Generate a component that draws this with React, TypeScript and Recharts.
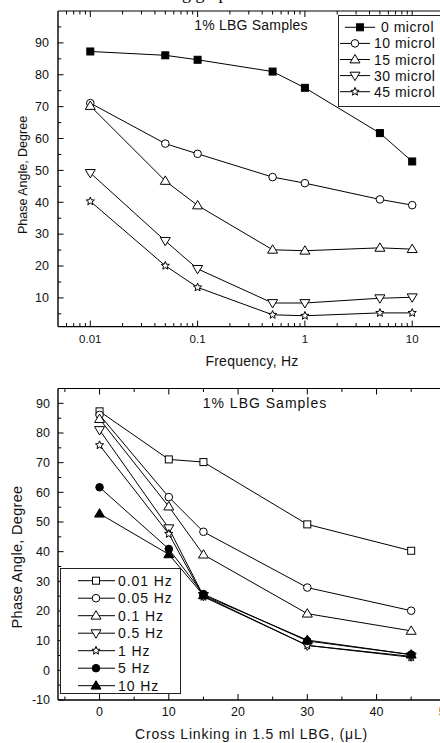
import React from 'react';
import { LineChart, Line, XAxis, YAxis, Legend } from 'recharts';

const FONT = '"Liberation Sans", Arial, Helvetica, sans-serif';

// ---------------- data ----------------
const frequencies = [0.01, 0.05, 0.1, 0.5, 1, 5, 10];
const crossLinkVolumes = [0, 10, 15, 30, 45];

const phase0ul = [87.3, 86.1, 84.7, 81.0, 75.9, 61.7, 52.8];
const phase10ul = [71.1, 58.4, 55.2, 47.9, 46.0, 40.9, 39.1];
const phase15ul = [70.2, 46.7, 39.0, 25.1, 24.8, 25.7, 25.3];
const phase30ul = [49.2, 27.9, 19.1, 8.4, 8.4, 9.9, 10.2];
const phase45ul = [40.3, 20.1, 13.3, 4.7, 4.4, 5.3, 5.3];

const volumeSeriesNames = ['0 microl', '10 microl', '15 microl', '30 microl', '45 microl'];
const frequencySeriesNames = ['0.01 Hz', '0.05 Hz', '0.1 Hz', '0.5 Hz', '1 Hz', '5 Hz', '10 Hz'];

const chartTitle = '1% LBG Samples';
const yAxisTitle = 'Phase Angle, Degree';
const topXAxisTitle = 'Frequency, Hz';
const bottomXAxisTitle = 'Cross Linking in 1.5 ml LBG, (\u03bcL)';
const pageFragmentText = 'following graph';

// ticks
const topXMajor = [0.01, 0.1, 1, 10];
const topXMinor = [
  0.006, 0.007, 0.008, 0.009,
  0.02, 0.03, 0.04, 0.05, 0.06, 0.07, 0.08, 0.09,
  0.2, 0.3, 0.4, 0.5, 0.6, 0.7, 0.8, 0.9,
  2, 3, 4, 5, 6, 7, 8, 9,
];
const topYMajor = [10, 20, 30, 40, 50, 60, 70, 80, 90];
const topYMinor = [5, 15, 25, 35, 45, 55, 65, 75, 85, 95];
const bottomXMajor = [0, 10, 20, 30, 40, 50];
const bottomXMinor = [-5, 5, 15, 25, 35, 45];
const bottomYMajor = [-10, 0, 10, 20, 30, 40, 50, 60, 70, 80, 90];
const bottomYMinor = [-5, 5, 15, 25, 35, 45, 55, 65, 75, 85];

// ---------------- tables ----------------
const volumeTable = [phase0ul, phase10ul, phase15ul, phase30ul, phase45ul];
const volumeKeys = ['v0', 'v10', 'v15', 'v30', 'v45'];
const freqKeys = ['f001', 'f005', 'f01', 'f05', 'f1', 'f5', 'f10'];

const topData = frequencies.map((f, i) => {
  const row: any = { f };
  volumeKeys.forEach((k, s) => (row[k] = volumeTable[s][i]));
  return row;
});

const bottomData = crossLinkVolumes.map((c, j) => {
  const row: any = { c };
  freqKeys.forEach((k, i) => (row[k] = volumeTable[j][i]));
  return row;
});

type Shape = 'square' | 'circle' | 'up' | 'down' | 'star';
const markerStyle: Record<string, { shape: Shape; filled: boolean }> = {
  v0: { shape: 'square', filled: true },
  v10: { shape: 'circle', filled: false },
  v15: { shape: 'up', filled: false },
  v30: { shape: 'down', filled: false },
  v45: { shape: 'star', filled: false },
  f001: { shape: 'square', filled: false },
  f005: { shape: 'circle', filled: false },
  f01: { shape: 'up', filled: false },
  f05: { shape: 'down', filled: false },
  f1: { shape: 'star', filled: false },
  f5: { shape: 'circle', filled: true },
  f10: { shape: 'up', filled: true },
};

function starPoints(cx: number, cy: number, R: number, r: number) {
  const pts: string[] = [];
  for (let k = 0; k < 10; k++) {
    const ang = -Math.PI / 2 + (k * Math.PI) / 5;
    const rad = k % 2 === 0 ? R : r;
    pts.push(`${cx + rad * Math.cos(ang)},${cy + rad * Math.sin(ang)}`);
  }
  return pts.join(' ');
}

function Marker({ shape, filled, cx, cy }: { shape: Shape; filled: boolean; cx: number; cy: number }) {
  const fill = filled ? '#000' : '#fff';
  const common = { fill, stroke: '#000', strokeWidth: 1 };
  if (cx == null || cy == null || isNaN(cx) || isNaN(cy)) return null;
  switch (shape) {
    case 'square':
      return <rect x={cx - 3.5} y={cy - 3.5} width={7} height={7} {...common} />;
    case 'circle':
      return <circle cx={cx} cy={cy} r={3.8} {...common} />;
    case 'up':
      return <polygon points={`${cx},${cy - 5} ${cx - 5},${cy + 3.4} ${cx + 5},${cy + 3.4}`} {...common} />;
    case 'down':
      return <polygon points={`${cx},${cy + 5} ${cx - 5},${cy - 3.4} ${cx + 5},${cy - 3.4}`} {...common} />;
    case 'star':
      return <polygon points={starPoints(cx, cy, 4.3, 1.9)} {...common} />;
  }
  return null;
}

const makeDot = (dataKey: string) => (props: any) => {
  const st = markerStyle[dataKey];
  return (
    <g key={`${dataKey}-${props.index}`}>
      <Marker shape={st.shape} filled={st.filled} cx={props.cx} cy={props.cy} />
    </g>
  );
};

// ---------------- ticks ----------------
const isIn = (arr: number[], v: number) => arr.some((m) => Math.abs(m - v) < 1e-9);

const makeXTick =
  (majors: number[], showLabels: boolean, inwardDir: 1 | -1, fontSize: number, labelOffset: number) =>
  (props: any) => {
    const { x, y, payload } = props;
    const major = isIn(majors, payload.value);
    const len = major ? 6 : 3.5;
    return (
      <g>
        <line x1={x} x2={x} y1={y} y2={y - inwardDir * len} stroke="#000" strokeWidth={1} />
        {showLabels && major ? (
          <text x={x} y={y + labelOffset} textAnchor="middle" fontFamily={FONT} fontSize={fontSize} fill="#111">
            {String(payload.value)}
          </text>
        ) : null}
      </g>
    );
  };

const makeYTick = (majors: number[], fontSize: number, gap: number) => (props: any) => {
  const { x, y, payload } = props;
  const major = isIn(majors, payload.value);
  const len = major ? 5.5 : 3.2;
  return (
    <g>
      <line x1={x} x2={x + len} y1={y} y2={y} stroke="#000" strokeWidth={1} />
      {major ? (
        <text x={x - gap} y={y + 4.3} textAnchor="end" fontFamily={FONT} fontSize={fontSize} fill="#111">
          {String(payload.value)}
        </text>
      ) : null}
    </g>
  );
};

// ---------------- legends ----------------
type LegendCfg = {
  w: number;
  h: number;
  rowY0: number;
  rowStep: number;
  lineX1: number;
  lineX2: number;
  markX: number;
  textX: number;
  fontSize: number;
  letterSpacing: number;
  order: string[];
  indents?: number[];
};

const makeLegend = (cfg: LegendCfg) => (props: any) => {
  const payload = [...(props.payload || [])].sort(
    (a: any, b: any) => cfg.order.indexOf(String(a.dataKey)) - cfg.order.indexOf(String(b.dataKey))
  );
  return (
    <svg width={cfg.w} height={cfg.h} style={{ display: 'block', overflow: 'visible' }}>
      <rect x={0.5} y={0.5} width={cfg.w - 1} height={cfg.h - 1} fill="#fff" stroke="#222" strokeWidth={1} />
      {payload.map((entry: any, i: number) => {
        const key = String(entry.dataKey);
        const st = markerStyle[key];
        const ind = cfg.indents ? cfg.indents[i] || 0 : 0;
        const cy = cfg.rowY0 + i * cfg.rowStep;
        return (
          <g key={key}>
            <line x1={cfg.lineX1 + ind} x2={cfg.lineX2 + ind} y1={cy} y2={cy} stroke="#000" strokeWidth={1} />
            {st ? <Marker shape={st.shape} filled={st.filled} cx={cfg.markX + ind} cy={cy} /> : null}
            <text
              x={cfg.textX + ind * 1.4}
              y={cy + 5}
              fontFamily={FONT}
              fontSize={cfg.fontSize}
              letterSpacing={cfg.letterSpacing}
              fill="#111"
            >
              {entry.value}
            </text>
          </g>
        );
      })}
    </svg>
  );
};

const topLegend = makeLegend({
  w: 132,
  h: 92,
  rowY0: 12.3,
  rowStep: 16.1,
  lineX1: 2,
  lineX2: 32,
  markX: 17,
  textX: 36,
  fontSize: 14,
  letterSpacing: 0.5,
  order: volumeKeys,
  indents: [5, 0, 0, 0, 0],
});

const bottomLegend = makeLegend({
  w: 121,
  h: 126,
  rowY0: 12.7,
  rowStep: 17.5,
  lineX1: 18,
  lineX2: 55,
  markX: 36,
  textX: 58,
  fontSize: 14,
  letterSpacing: 0.9,
  order: freqKeys,
});

// ---------------- component ----------------
export default function App() {
  const topXTicks = [...topXMajor, ...topXMinor].sort((a, b) => a - b);
  const topYTicks = [...topYMajor, ...topYMinor].sort((a, b) => a - b);
  const botXTicks = [...bottomXMajor, ...bottomXMinor].sort((a, b) => a - b);
  const botYTicks = [...bottomYMajor, ...bottomYMinor].sort((a, b) => a - b);

  return (
    <div
      style={{
        position: 'absolute',
        left: 0,
        top: 0,
        width: 440,
        height: 743,
        overflow: 'hidden',
        background: '#fff',
      }}
    >
      {/* ---------- top chart ---------- */}
      <div style={{ position: 'absolute', left: 0, top: 0 }}>
        <LineChart
          width={460}
          height={372}
          data={topData}
          margin={{ top: 10, left: 57, right: 15.5, bottom: 44.4 }}
        >
          <XAxis
            dataKey="f"
            type="number"
            scale="log"
            domain={[0.005, 20]}
            allowDataOverflow
            ticks={topXTicks}
            interval={0}
            height={1}
            tickSize={0}
            tickMargin={0}
            tickLine={false}
            axisLine={{ stroke: '#000', strokeWidth: 1.4 }}
            tick={makeXTick(topXMajor, true, 1, 11.5, 16.7)}
          />
          <XAxis
            xAxisId="top"
            orientation="top"
            dataKey="f"
            type="number"
            scale="log"
            domain={[0.005, 20]}
            allowDataOverflow
            ticks={topXTicks}
            interval={0}
            height={1}
            tickSize={0}
            tickMargin={0}
            tickLine={false}
            axisLine={{ stroke: '#000', strokeWidth: 1.2 }}
            tick={makeXTick(topXMajor, false, -1, 11.5, 0)}
          />
          <YAxis
            type="number"
            domain={[1, 100]}
            allowDataOverflow
            ticks={topYTicks}
            interval={0}
            width={1}
            tickSize={0}
            tickMargin={0}
            tickLine={false}
            axisLine={{ stroke: '#000', strokeWidth: 1.4 }}
            tick={makeYTick(topYMajor, 12.5, 9)}
          />
          {volumeKeys.map((k, s) => (
            <Line
              key={k}
              dataKey={k}
              name={volumeSeriesNames[s]}
              stroke="#000"
              strokeWidth={1}
              dot={makeDot(k)}
              activeDot={false}
              isAnimationActive={false}
            />
          ))}
          <Legend
            layout="horizontal"
            verticalAlign="middle"
            align="center"
            content={topLegend}
            wrapperStyle={{ left: 338, top: 15, width: 132, height: 92 }}
          />
          <text
            x={121}
            y={-1.2}
            fontFamily='"Liberation Serif", "Times New Roman", serif'
            fontSize={18}
            fill="#000"
          >
            {pageFragmentText}
          </text>
          <text x={251} y={30} textAnchor="middle" fontFamily={FONT} fontSize={14} letterSpacing={0.2} fill="#111">
            {chartTitle}
          </text>
          <text x={252} y={366} textAnchor="middle" fontFamily={FONT} fontSize={14} letterSpacing={0.25} fill="#111">
            {topXAxisTitle}
          </text>
          <text
            x={23}
            y={175}
            transform="rotate(-90, 23, 175)"
            textAnchor="middle"
            dominantBaseline="central"
            fontFamily={FONT}
            fontSize={12.5}
            fill="#111"
          >
            {yAxisTitle}
          </text>
        </LineChart>
      </div>

      {/* ---------- bottom chart ---------- */}
      <div style={{ position: 'absolute', left: 0, top: 372 }}>
        <LineChart
          width={460}
          height={371}
          data={bottomData}
          margin={{ top: 15.5, left: 57, right: 14.2, bottom: 42 }}
        >
          <XAxis
            dataKey="c"
            type="number"
            domain={[-6, 50]}
            allowDataOverflow
            ticks={botXTicks}
            interval={0}
            height={1}
            tickSize={0}
            tickMargin={0}
            tickLine={false}
            axisLine={{ stroke: '#000', strokeWidth: 1.4 }}
            tick={makeXTick(bottomXMajor, true, 1, 12.5, 16)}
          />
          <XAxis
            xAxisId="top"
            orientation="top"
            dataKey="c"
            type="number"
            domain={[-6, 50]}
            allowDataOverflow
            ticks={botXTicks}
            interval={0}
            height={1}
            tickSize={0}
            tickMargin={0}
            tickLine={false}
            axisLine={{ stroke: '#000', strokeWidth: 1.2 }}
            tick={makeXTick(bottomXMajor, false, -1, 12.5, 0)}
          />
          <YAxis
            type="number"
            domain={[-10, 95]}
            allowDataOverflow
            ticks={botYTicks}
            interval={0}
            width={1}
            tickSize={0}
            tickMargin={0}
            tickLine={false}
            axisLine={{ stroke: '#000', strokeWidth: 1.4 }}
            tick={makeYTick(bottomYMajor, 12.5, 8)}
          />
          {freqKeys.map((k, i) => (
            <Line
              key={k}
              dataKey={k}
              name={frequencySeriesNames[i]}
              stroke="#000"
              strokeWidth={1}
              dot={makeDot(k)}
              activeDot={false}
              isAnimationActive={false}
            />
          ))}
          <Legend
            layout="horizontal"
            verticalAlign="middle"
            align="center"
            content={bottomLegend}
            wrapperStyle={{ left: 60, top: 196, width: 121, height: 126 }}
          />
          <text x={265} y={35.5} textAnchor="middle" fontFamily={FONT} fontSize={14} letterSpacing={1} fill="#111">
            {chartTitle}
          </text>
          <text x={251.5} y={367} textAnchor="middle" fontFamily={FONT} fontSize={14} letterSpacing={0.8} fill="#111">
            {bottomXAxisTitle}
          </text>
          <text
            x={17}
            y={185}
            transform="rotate(-90, 17, 185)"
            textAnchor="middle"
            dominantBaseline="central"
            fontFamily={FONT}
            fontSize={14.5}
            letterSpacing={0.3}
            fill="#111"
          >
            {yAxisTitle}
          </text>
        </LineChart>
      </div>
    </div>
  );
}
